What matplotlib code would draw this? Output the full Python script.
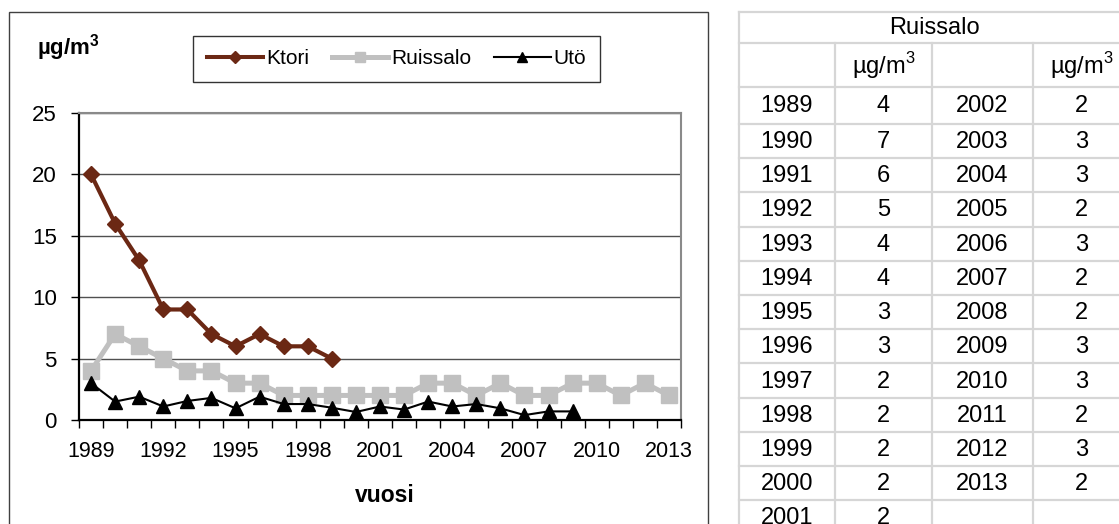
import matplotlib.pyplot as plt
from matplotlib.lines import Line2D
from matplotlib.patches import Rectangle
import numpy as np

plt.rcParams['font.family'] = ['Liberation Sans', 'DejaVu Sans']

# ---- data ----
years = list(range(1989, 2014))
ktori = [20, 16, 13, 9, 9, 7, 6, 7, 6, 6, 5]
ruissalo = [4, 7, 6, 5, 4, 4, 3, 3, 2, 2, 2, 2, 2,
            2, 3, 3, 2, 3, 2, 2, 3, 3, 2, 3, 2]
uto = [3.0, 1.5, 1.9, 1.1, 1.55, 1.8, 0.95, 1.9, 1.3, 1.3, 1.0,
       0.65, 1.1, 0.85, 1.5, 1.1, 1.3, 0.95, 0.4, 0.7, 0.7]
y_ticks = [0, 5, 10, 15, 20, 25]
unit = r'µg/m$^{\mathregular{3}}$'

KTORI_C = '#6b2814'
RUIS_C = '#c0c0c0'
W, H = 1119, 524

fig = plt.figure(figsize=(W / 100, H / 100), dpi=100)

# outer chart frame
fig.patches.append(Rectangle((9 / W, -0.05), 699 / W, 1.05 - 12 / H,
                             transform=fig.transFigure, fill=False,
                             edgecolor='#404040', lw=1))

ax = fig.add_axes([79 / W, 1 - 420 / H, 602 / W, 307 / H])
x = np.arange(len(years))
ax.plot(x[:len(ktori)], ktori, color=KTORI_C, lw=3.0, marker='D', ms=8.5,
        mec=KTORI_C, zorder=3)
ax.plot(x[:len(ruissalo)], ruissalo, color=RUIS_C, lw=3.6, marker='s', ms=11,
        mec=RUIS_C, zorder=4)
ax.plot(x[:len(uto)], uto, color='black', lw=1.5, marker='^', ms=10,
        zorder=5)

ax.set_xlim(-0.5, len(years) - 0.5)
ax.set_ylim(0, 25)
ax.set_yticks(y_ticks)
ax.yaxis.grid(True, color='#505050', lw=1)
ax.set_axisbelow(True)

ax.set_xticks(np.arange(-0.5, len(years), 1.0))
ax.set_xticklabels([])
ax.set_xticks(x[::3], minor=True)
ax.set_xticklabels([str(y) for y in years[::3]], minor=True)
ax.tick_params(axis='x', which='major', length=6, width=1, direction='out')
ax.tick_params(axis='x', which='minor', length=0, pad=15, labelsize=15.5)
ax.tick_params(axis='y', length=6, width=1, direction='out', pad=10, labelsize=16)

for s in ('left', 'bottom'):
    ax.spines[s].set_color('black')
    ax.spines[s].set_linewidth(1.6)
for s in ('top', 'right'):
    ax.spines[s].set_color('#8a8a8a')
    ax.spines[s].set_linewidth(1.5)

fig.text(37 / W, 1 - 48 / H, unit, fontsize=16, fontweight='bold',
         va='center', ha='left')
fig.text(385 / W, 1 - 495 / H, 'vuosi', fontsize=16.5, fontweight='bold',
         va='center', ha='center')

handles = [
    Line2D([], [], color=KTORI_C, lw=2.9, marker='D', ms=6, mec=KTORI_C),
    Line2D([], [], color=RUIS_C, lw=3.6, marker='s', ms=7, mec=RUIS_C),
    Line2D([], [], color='black', lw=1.5, marker='^', ms=7),
]
leg = fig.legend(handles, ['Ktori', 'Ruissalo', 'Utö'], ncol=3,
                 loc='center', bbox_to_anchor=(396.5 / W, 1 - 59 / H),
                 fontsize=15, frameon=True, fancybox=False,
                 edgecolor='black', handlelength=2.7, handletextpad=0.15,
                 columnspacing=1.1, borderpad=0.65, borderaxespad=0)
leg.get_frame().set_linewidth(1)

# ---- table ----
tab = fig.add_axes([0, 0, 1, 1])
tab.set_xlim(0, W)
tab.set_ylim(H, 0)
tab.axis('off')
tab.patch.set_alpha(0)

col_x = [739, 835, 932, 1033, 1130]
row_y = [12, 43, 87] + [124 + 34.2 * k for k in range(13)]
GRID = '#d6d6d6'
for yy in row_y:
    tab.plot([col_x[0], col_x[-1]], [yy, yy], color=GRID, lw=1.6)
tab.plot([col_x[0], col_x[0]], [row_y[0], H + 10], color=GRID, lw=1.6)
for cx in col_x[1:-1]:
    tab.plot([cx, cx], [row_y[1], H + 10], color=GRID, lw=1.6)

centers = [(col_x[i] + col_x[i + 1]) / 2 for i in range(4)]
tab.text((col_x[0] + col_x[-1]) / 2, (row_y[0] + row_y[1]) / 2 + 1, 'Ruissalo',
         ha='center', va='center', fontsize=17)
for c in (1, 3):
    tab.text(centers[c], (row_y[1] + row_y[2]) / 2 + 1, unit,
             ha='center', va='center', fontsize=17)

half = 13
row_mid = [row_y[2] + 37 / 2] + [124 + 34.2 * k + 17.1 for k in range(13)]
for i, (yr, v) in enumerate(zip(years, ruissalo)):
    r = i if i < half else i - half
    c = 0 if i < half else 2
    tab.text(centers[c], row_mid[r] + 1, str(yr), ha='center', va='center',
             fontsize=17)
    tab.text(centers[c + 1], row_mid[r] + 1, str(v), ha='center', va='center',
             fontsize=17)

plt.savefig('out.png', dpi=100)
